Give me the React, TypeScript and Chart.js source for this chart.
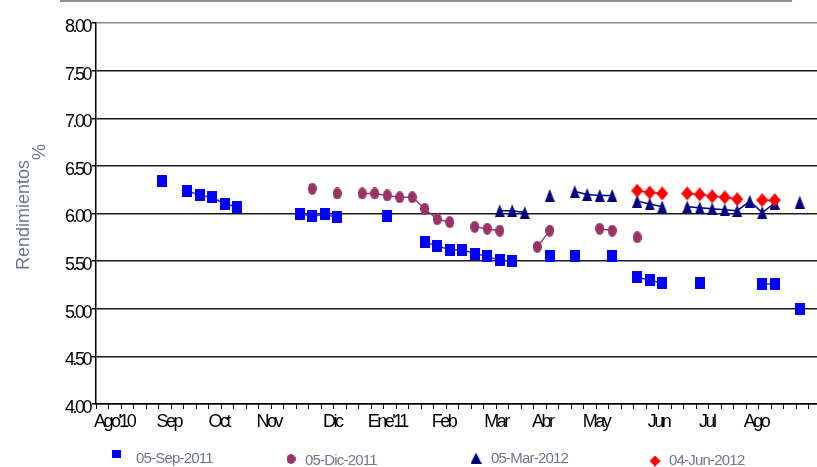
import React, { useEffect, useRef } from 'react';
import { Chart, registerables } from 'chart.js';

Chart.register(...registerables);

// ---- data ----
const X_LABELS = ["Ago'10", 'Sep', 'Oct', 'Nov', 'Dic', "Ene'11", 'Feb', 'Mar', 'Abr', 'May', 'Jun', 'Jul', 'Ago'];
const X_LABEL_WEEKS = [1.45, 5.82, 9.82, 13.82, 18.9, 23.3, 27.8, 32.0, 35.7, 40.0, 45.0, 48.86, 52.8];
const WEEK_TICKS = 57;
const X_MAX = 57.68;
const POINT_OFFSET = 0.3;

const SERIES_LABELS = ['05-Sep-2011', '05-Dic-2011', '05-Mar-2012', '04-Jun-2012'];

const SEP_WEEKS = [5, 7, 8, 9, 10, 11, 16, 17, 18, 19, 23, 26, 27, 28, 29, 30, 31, 32, 33, 36, 38, 41, 43, 44, 45, 48, 53, 54, 56];
const SEP_VALUES = [6.34, 6.24, 6.19, 6.17, 6.10, 6.07, 6.00, 5.97, 5.99, 5.96, 5.97, 5.70, 5.66, 5.62, 5.62, 5.58, 5.55, 5.51, 5.50, 5.55, 5.55, 5.55, 5.33, 5.30, 5.27, 5.27, 5.26, 5.26, 5.00];

const DIC_WEEKS = [17, 19, 21, 22, 23, 24, 25, 26, 27, 28, 30, 31, 32, 35, 36, 40, 41, 43];
const DIC_VALUES = [6.26, 6.21, 6.21, 6.21, 6.19, 6.17, 6.17, 6.05, 5.94, 5.91, 5.86, 5.84, 5.82, 5.65, 5.82, 5.84, 5.82, 5.75];

const MAR_WEEKS = [32, 33, 34, 36, 38, 39, 40, 41, 43, 44, 45, 47, 48, 49, 50, 51, 52, 53, 54, 56];
const MAR_VALUES = [6.03, 6.03, 6.01, 6.19, 6.23, 6.20, 6.19, 6.19, 6.13, 6.10, 6.07, 6.07, 6.06, 6.05, 6.04, 6.03, 6.13, 6.01, 6.11, 6.12];

const JUN_WEEKS = [43, 44, 45, 47, 48, 49, 50, 51, 53, 54];
const JUN_VALUES = [6.24, 6.22, 6.21, 6.21, 6.20, 6.18, 6.17, 6.15, 6.14, 6.14];

const Y_MIN = 4;
const Y_MAX = 8;
const Y_STEP = 0.5;
const Y_TITLE = 'Rendimientos';
const Y_UNIT = '%';

// ---- helpers ----
function buildSeries(weeks: number[], values: number[]) {
  const out: { x: number; y: number | null }[] = [];
  for (let w = weeks[0]; w <= weeks[weeks.length - 1]; w++) {
    const i = weeks.indexOf(w);
    out.push({ x: w + POINT_OFFSET, y: i >= 0 ? values[i] : null });
  }
  return out;
}

function makeMarker(w: number, h: number, color: string, shape: string): HTMLCanvasElement {
  const c = document.createElement('canvas');
  c.width = w;
  c.height = h;
  const g = c.getContext('2d')!;
  g.fillStyle = color;
  g.beginPath();
  if (shape === 'rect') g.rect(0, 0, w, h);
  else if (shape === 'ellipse') g.ellipse(w / 2, h / 2, w / 2, h / 2, 0, 0, Math.PI * 2);
  else if (shape === 'triangle') {
    g.moveTo(w / 2, 0);
    g.lineTo(w, h);
    g.lineTo(0, h);
    g.closePath();
  } else {
    g.moveTo(w / 2, 0);
    g.lineTo(w, h / 2);
    g.lineTo(w / 2, h);
    g.lineTo(0, h / 2);
    g.closePath();
  }
  g.fill();
  return c;
}

const TICK_FONT = { family: '"Liberation Sans", Arial, sans-serif', size: 18 };

const LEGEND_LAYOUT = [
  { mx: 116.5, my: 454, w: 9, h: 8, tx: 136, ty: 459 },
  { mx: 291, my: 459, w: 9, h: 10, tx: 305, ty: 461 },
  { mx: 476, my: 458, w: 11, h: 11, tx: 491, ty: 459 },
  { mx: 655, my: 461, w: 11, h: 11, tx: 669, ty: 461 },
];

const decorPlugin = {
  id: 'decor',
  beforeDraw(chart: any) {
    chart.ctx.letterSpacing = '-2.5px';
  },
  afterDraw(chart: any) {
    const ctx = chart.ctx;
    ctx.save();
    ctx.letterSpacing = '0px';
    // top rule
    ctx.fillStyle = '#8a919c';
    ctx.fillRect(60, 0, 732, 2);
    // y title
    ctx.save();
    ctx.fillStyle = '#6e7888';
    ctx.font = '18px "Liberation Sans", Arial, sans-serif';
    ctx.textAlign = 'left';
    ctx.textBaseline = 'alphabetic';
    ctx.translate(28.5, 270);
    ctx.rotate(-Math.PI / 2);
    ctx.fillText(Y_TITLE, 0, 0);
    ctx.fillText(Y_UNIT, 110, 16.5);
    ctx.restore();
    // legend
    ctx.font = '15px "Liberation Sans", Arial, sans-serif';
    ctx.letterSpacing = '-0.8px';
    ctx.textAlign = 'left';
    ctx.textBaseline = 'middle';
    chart.data.datasets.forEach((ds: any, i: number) => {
      const L = LEGEND_LAYOUT[i];
      ctx.drawImage(ds.pointStyle, L.mx - L.w / 2, L.my - L.h / 2, L.w, L.h);
      ctx.fillStyle = '#6e7888';
      ctx.fillText(ds.label, L.tx, L.ty);
    });
    ctx.restore();
  },
};

export default function App() {
  const ref = useRef<HTMLCanvasElement | null>(null);

  useEffect(() => {
    if (!ref.current) return;
    const sq = makeMarker(10, 12, '#0000ff', 'rect');
    const ci = makeMarker(9, 12, '#993366', 'ellipse');
    const tr = makeMarker(10, 13, '#000080', 'triangle');
    const di = makeMarker(12, 14, '#ff0000', 'diamond');

    const common = { borderWidth: 1.5, pointRadius: 6, pointHoverRadius: 6, spanGaps: false, fill: false, tension: 0 };

    const chart = new Chart(ref.current, {
      type: 'line',
      data: {
        datasets: [
          { ...common, label: SERIES_LABELS[0], data: buildSeries(SEP_WEEKS, SEP_VALUES), borderColor: '#2b2bd6', backgroundColor: '#0000ff', pointStyle: sq, order: 4 },
          { ...common, label: SERIES_LABELS[1], data: buildSeries(DIC_WEEKS, DIC_VALUES), borderColor: '#8e3a8e', backgroundColor: '#993366', pointStyle: ci, order: 3 },
          { ...common, label: SERIES_LABELS[2], data: buildSeries(MAR_WEEKS, MAR_VALUES), borderColor: '#000080', backgroundColor: '#000080', pointStyle: tr, order: 2 },
          { ...common, label: SERIES_LABELS[3], data: buildSeries(JUN_WEEKS, JUN_VALUES), borderColor: '#ff0000', backgroundColor: '#ff0000', pointStyle: di, order: 1 },
        ] as any,
      },
      options: {
        responsive: false,
        animation: false,
        events: [],
        layout: { autoPadding: false, padding: { top: 23, bottom: 33, left: 0, right: 0 } },
        plugins: { legend: { display: false }, tooltip: { enabled: false } },
        scales: {
          x: {
            type: 'linear',
            min: 0,
            max: X_MAX,
            afterBuildTicks: (s: any) => {
              const t: any[] = [];
              for (let i = 0; i <= WEEK_TICKS; i++) t.push({ value: i });
              X_LABEL_WEEKS.forEach((v) => t.push({ value: v }));
              s.ticks = t;
            },
            afterFit: (s: any) => {
              s.height = 30;
            },
            grid: {
              drawOnChartArea: false,
              drawTicks: true,
              tickLength: 5,
              tickWidth: 1,
              tickColor: (c: any) => (c.index <= WEEK_TICKS ? '#000' : 'rgba(0,0,0,0)'),
            },
            border: { color: '#000', width: 1.5 },
            ticks: {
              autoSkip: false,
              maxRotation: 0,
              minRotation: 0,
              padding: 2,
              color: '#000',
              font: TICK_FONT,
              callback: (_v: any, i: number) => (i > WEEK_TICKS ? X_LABELS[i - WEEK_TICKS - 1] : ''),
            },
          },
          y: {
            min: Y_MIN,
            max: Y_MAX,
            afterFit: (s: any) => {
              s.width = 96;
            },
            grid: {
              color: (c: any) => (c.tick && c.tick.value === Y_MAX ? '#8a8a8a' : '#1a1a1a'),
              lineWidth: 1.5,
              tickLength: 4,
              tickColor: '#000',
            },
            border: { color: '#000', width: 1.5 },
            ticks: {
              stepSize: Y_STEP,
              padding: 2,
              labelOffset: 4,
              color: '#000',
              font: TICK_FONT,
              callback: (v: any) => Number(v).toFixed(2),
            },
          },
        },
      } as any,
      plugins: [decorPlugin],
    });
    return () => chart.destroy();
  }, []);

  return (
    <div style={{ position: 'absolute', left: 0, top: 0, width: 817, height: 467 }}>
      <canvas ref={ref} width={817} height={467} style={{ display: 'block', width: 817, height: 467 }} />
    </div>
  );
}
